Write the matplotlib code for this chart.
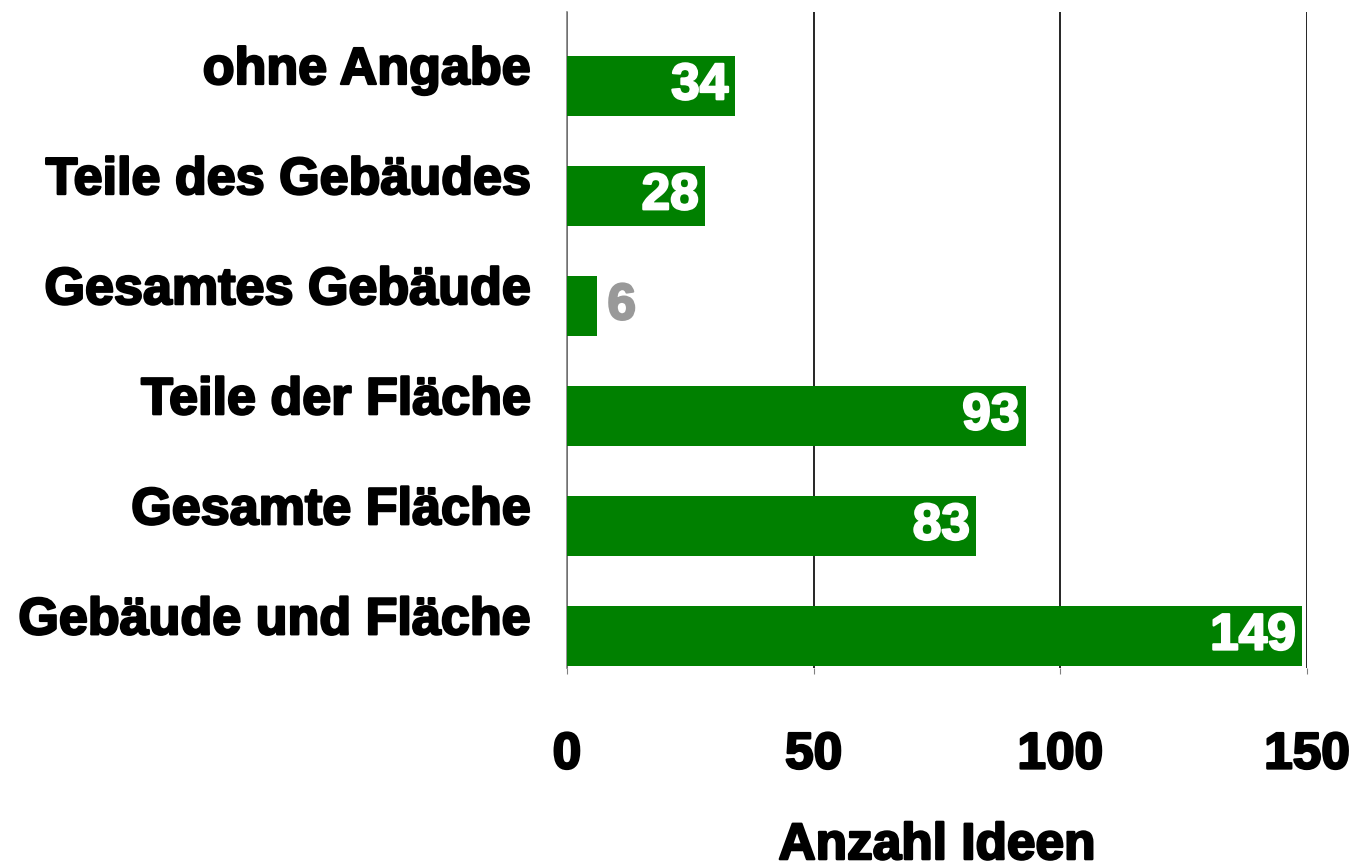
import matplotlib.pyplot as plt
import matplotlib.patheffects as pe

categories = ["Gebäude und Fläche", "Gesamte Fläche", "Teile der Fläche",
              "Gesamtes Gebäude", "Teile des Gebäudes", "ohne Angabe"]
values = [149, 83, 93, 6, 28, 34]
xticks = [0, 50, 100, 150]

plt.rcParams['font.family'] = ['Liberation Sans', 'DejaVu Sans']
plt.rcParams['font.weight'] = 'bold'

fig = plt.figure(figsize=(13.59, 8.63), dpi=100)
ax = fig.add_axes([0.4172, 0.2260, 0.5445, 0.7601])

y = list(range(len(categories)))
ax.barh(y, values, height=0.545, color="#008000", zorder=3)

ax.set_xlim(0, 150)
ax.set_ylim(-0.29, 5.67)
ax.set_xticks(xticks)
ax.set_yticks(y)
ax.set_yticklabels([])
ax.grid(axis="x", color="black", linewidth=1.2, zorder=1)
ax.set_axisbelow(True)

for s in ["top", "right", "bottom"]:
    ax.spines[s].set_visible(False)
ax.spines["left"].set_color("#808080")
ax.spines["left"].set_linewidth(1.2)

thick = [pe.withStroke(linewidth=1.7, foreground="black")]

ax.tick_params(axis="y", length=0)
ax.tick_params(axis="x", length=4, color="#808080", pad=41, labelsize=37)
for lab in ax.get_xticklabels():
    lab.set_fontweight("bold")
    lab.set_path_effects(thick)

# category labels, a bit above the bar centres as in the original
for yi, cat in zip(y, categories):
    ax.annotate(cat, xy=(0, yi), xycoords=("axes fraction", "data"),
                xytext=(-26, 11), textcoords="offset points",
                ha="right", va="center", fontsize=37.5, fontweight="bold",
                path_effects=thick)

for yi, v in zip(y, values):
    if v < 15:
        ax.text(v + 2.2, yi, str(v), ha="left", va="center", color="#999999",
                fontsize=37, fontweight="bold", zorder=4,
                path_effects=[pe.withStroke(linewidth=1.6, foreground="#999999")])
    else:
        ax.text(v - 1.3, yi, str(v), ha="right", va="center", color="white",
                fontsize=37, fontweight="bold", zorder=4,
                path_effects=[pe.withStroke(linewidth=1.6, foreground="white")])

ax.set_xlabel("Anzahl Ideen", fontsize=37, fontweight="bold", labelpad=30,
              path_effects=thick)

fig.savefig("out.png", dpi=100)
